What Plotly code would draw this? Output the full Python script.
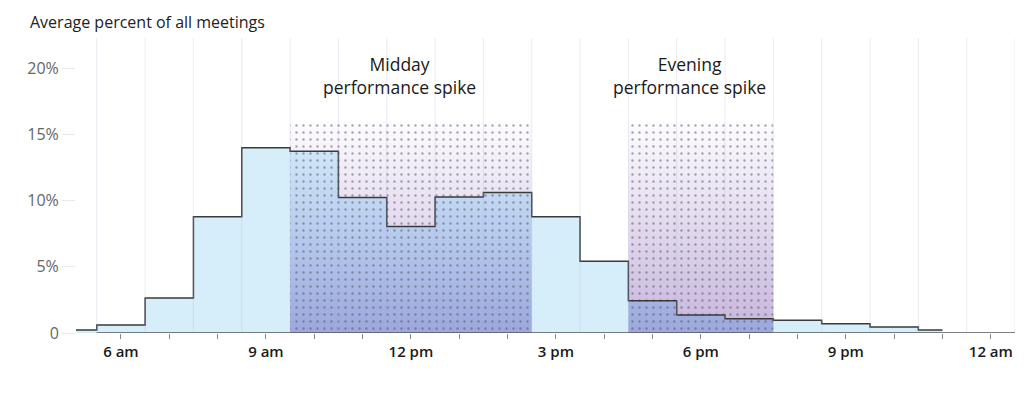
import plotly.graph_objects as go

# ---- data (hours of day; 24 = midnight) ----
bin_edges = [5.0, 5.5, 6.5, 7.5, 8.5, 9.5, 10.5, 11.5, 12.5, 13.5, 14.5,
             15.5, 16.5, 17.5, 18.5, 19.5, 20.5, 21.5, 22.5, 23.0]
pct_values = [0.23, 0.6, 2.64, 8.78, 14.0, 13.74, 10.24, 8.05, 10.29, 10.62,
              8.78, 5.43, 2.44, 1.36, 1.08, 0.96, 0.70, 0.45, 0.23]
highlight_names = ["Midday<br>performance spike", "Evening<br>performance spike"]
highlight_start = [9.5, 16.5]
highlight_end = [14.5, 19.5]
highlight_top = 16.0
tick_hours = list(range(6, 25))
tick_labels = {6: "6 am", 9: "9 am", 12: "12 pm", 15: "3 pm", 18: "6 pm", 21: "9 pm", 24: "12 am"}
y_ticks = [0, 5, 10, 15, 20]
y_tick_text = ["0", "5%", "10%", "15%", "20%"]

FONT = "Open Sans"

def step_points(a, b):
    xs, ys = [], []
    for i, v in enumerate(pct_values):
        lo, hi = bin_edges[i], bin_edges[i + 1]
        lo2, hi2 = max(lo, a), min(hi, b)
        if lo2 < hi2:
            xs += [lo2, hi2]
            ys += [v, v]
    return xs, ys

fig = go.Figure()

# base light-blue step area
fig.add_trace(go.Scatter(
    x=bin_edges, y=pct_values + [pct_values[-1]], mode="lines",
    line=dict(shape="hv", width=0), fill="tozeroy", fillcolor="#d5eefa",
    hoverinfo="skip", showlegend=False))

for a, b in zip(highlight_start, highlight_end):
    sx, sy = step_points(a, b)
    # under curve gradient
    fig.add_trace(go.Scatter(
        x=[a] + sx + [b, a], y=[0] + sy + [0, 0], mode="lines", line=dict(width=0),
        fill="toself",
        fillgradient=dict(type="vertical", start=0, stop=highlight_top,
                          colorscale=[[0, "#9ca7dd"], [0.5, "#b8cdef"], [1, "#d8f0fb"]]),
        hoverinfo="skip", showlegend=False))
    # above curve gradient
    fig.add_trace(go.Scatter(
        x=sx + [b, a, a], y=sy + [highlight_top, highlight_top, sy[0]], mode="lines",
        line=dict(width=0), fill="toself",
        fillgradient=dict(type="vertical", start=0, stop=highlight_top,
                          colorscale=[[0, "#c6b5dd"], [1, "#fdfcff"]]),
        hoverinfo="skip", showlegend=False))
    # dotted texture
    fig.add_trace(go.Scatter(
        x=[a, b, b, a, a], y=[0, 0, highlight_top, highlight_top, 0], mode="lines",
        line=dict(width=0), fill="toself", fillcolor="rgba(0,0,0,0)",
        fillpattern=dict(shape=".", size=7, solidity=0.09, fgcolor="#505050",
                         bgcolor="rgba(0,0,0,0)", fillmode="overlay"),
        hoverinfo="skip", showlegend=False))

# step outline
fig.add_trace(go.Scatter(
    x=bin_edges, y=pct_values + [pct_values[-1]], mode="lines",
    line=dict(shape="hv", width=1.5, color="#3a3a3a"),
    hoverinfo="skip", showlegend=False))

shapes = []
h = 5.5
while h <= 24.5:
    shapes.append(dict(type="line", xref="x", yref="paper", x0=h, x1=h, y0=0, y1=1,
                       line=dict(color="rgba(180,180,220,0.28)", width=1), layer="above"))
    h += 1
shapes.append(dict(type="line", xref="x", yref="y", x0=5.5, x1=24.5, y0=0, y1=0,
                   line=dict(color="#555555", width=1.5), layer="above"))

annotations = [dict(text="Average percent of all meetings", xref="paper", yref="paper",
                    x=-48 / 939, y=1 + 16 / 295, xanchor="left", yanchor="middle",
                    showarrow=False, font=dict(family=FONT, size=16, color="#222222"))]
for name, a, b in zip(highlight_names, highlight_start, highlight_end):
    annotations.append(dict(text=name, x=(a + b) / 2, y=19.5, xref="x", yref="y",
                            xshift=-11, showarrow=False, xanchor="center", yanchor="middle",
                            align="center",
                            font=dict(family=FONT, size=17.5, color="#1a1a1a")))

fig.update_layout(
    width=1024, height=398,
    margin=dict(l=76, r=9, t=38, b=65, autoexpand=False),
    paper_bgcolor="white", plot_bgcolor="white",
    showlegend=False,
    shapes=shapes, annotations=annotations,
    xaxis=dict(range=[5.07, 24.5], tickvals=tick_hours, automargin=False,
               ticktext=[tick_labels.get(t, "") for t in tick_hours],
               ticks="outside", ticklen=5, tickcolor="#888888", tickwidth=1,
               showgrid=False, zeroline=False, showline=False,
               tickfont=dict(family=FONT, size=15, color="#1a1a1a", weight=600)),
    yaxis=dict(range=[0, 22.3], tickvals=y_ticks, ticktext=y_tick_text, automargin=False,
               ticks="outside", ticklen=13, tickcolor="#e8e8f0", tickwidth=1,
               showgrid=False, zeroline=False, showline=False,
               tickfont=dict(family=FONT, size=16, color="#666666")),
)

fig.write_html("out.html", config={"displayModeBar": False},
               post_script="document.body.style.margin='0';document.body.style.overflow='hidden';")
